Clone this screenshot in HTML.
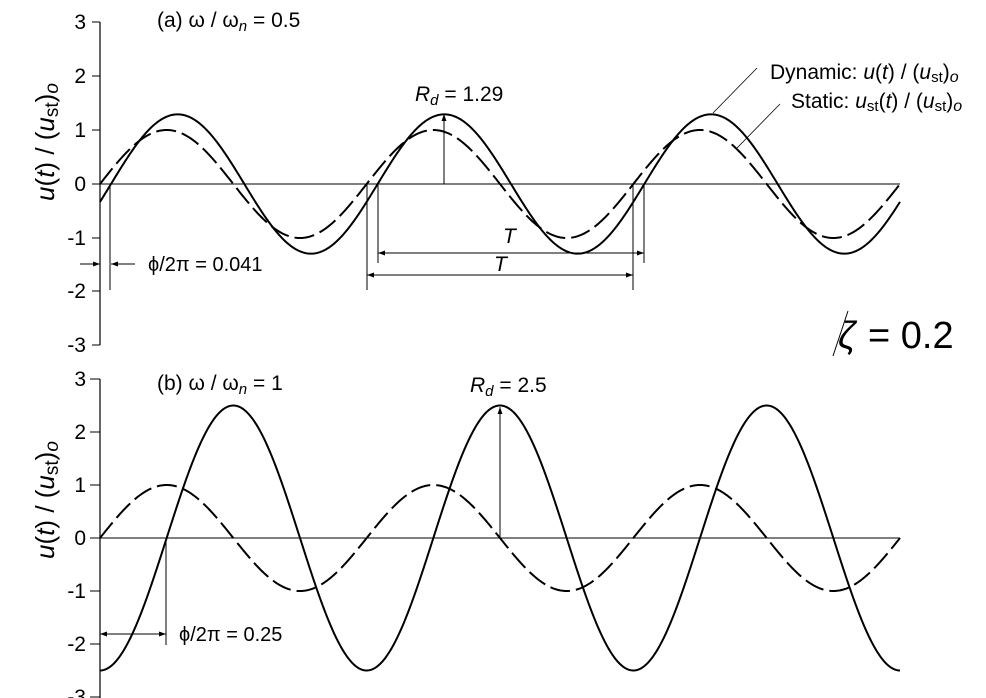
<!DOCTYPE html>
<html><head><meta charset="utf-8"><style>
html,body{margin:0;padding:0;background:#fff}
svg{display:block}
text{font-family:"Liberation Sans",sans-serif;fill:#000}
</style></head><body>
<svg id="s" width="986" height="698" viewBox="0 0 986 698" xmlns="http://www.w3.org/2000/svg">
<defs>
<marker id="ah" viewBox="0 0 10 10" refX="10" refY="5" markerWidth="7" markerHeight="7" orient="auto-start-reverse"><path d="M0,1.5 L10,5 L0,8.5 z" fill="#000"/></marker>
</defs>
<g stroke="#000" fill="none">
<line x1="100" y1="22" x2="100" y2="345" stroke-width="1.2"/>
<line x1="100" y1="184" x2="900" y2="184" stroke-width="1"/>
<path d="M92,22H100M92,76H100M92,130H100M92,238H100M92,291H100M92,345H100M92,184H100" stroke-width="1"/>
<line x1="100" y1="379" x2="100" y2="698" stroke-width="1.2"/>
<line x1="100" y1="538" x2="900" y2="538" stroke-width="1"/>
<path d="M90,379H100M90,432H100M90,485H100M90,538H100M90,591H100M90,644H100M90,697H100" stroke-width="1"/>
<line x1="110" y1="184" x2="110" y2="290" stroke-width="1"/>
<line x1="80" y1="264" x2="100" y2="264" stroke-width="1" marker-end="url(#ah)"/>
<line x1="135" y1="264" x2="111" y2="264" stroke-width="1" marker-end="url(#ah)"/>
<line x1="444" y1="184" x2="444" y2="114" stroke-width="1" marker-end="url(#ah)"/>
<path d="M367,184V290M378,184V263M633,184V290M644,184V263" stroke-width="1"/>
<line x1="378" y1="253" x2="644" y2="253" stroke-width="1" marker-start="url(#ah)" marker-end="url(#ah)"/>
<line x1="367" y1="275" x2="633" y2="275" stroke-width="1" marker-start="url(#ah)" marker-end="url(#ah)"/>
<line x1="757" y1="68" x2="713" y2="113" stroke-width="0.8"/>
<line x1="780" y1="104" x2="737" y2="148" stroke-width="0.8"/>
<line x1="833" y1="356" x2="848" y2="311" stroke-width="1"/>
<line x1="166" y1="538" x2="166" y2="645" stroke-width="1"/>
<line x1="100" y1="634" x2="166" y2="634" stroke-width="1" marker-start="url(#ah)" marker-end="url(#ah)"/>
<line x1="500" y1="538" x2="500" y2="407" stroke-width="1" marker-end="url(#ah)"/>
<path id="c1" stroke-width="2"/>
<path id="c2" stroke-width="2" stroke-dasharray="20,6"/>
<path id="c3" stroke-width="2"/>
<path id="c4" stroke-width="2" stroke-dasharray="20,6"/>
</g>
<g font-size="21">
<text x="86" y="29" text-anchor="end">3</text>
<text x="86" y="83" text-anchor="end">2</text>
<text x="86" y="137" text-anchor="end">1</text>
<text x="86" y="191" text-anchor="end">0</text>
<text x="86" y="245" text-anchor="end">-1</text>
<text x="86" y="298" text-anchor="end">-2</text>
<text x="86" y="352" text-anchor="end">-3</text>
<text x="86" y="386" text-anchor="end">3</text>
<text x="86" y="439" text-anchor="end">2</text>
<text x="86" y="492" text-anchor="end">1</text>
<text x="86" y="545" text-anchor="end">0</text>
<text x="86" y="598" text-anchor="end">-1</text>
<text x="86" y="651" text-anchor="end">-2</text>
<text x="86" y="704" text-anchor="end">-3</text>
<text x="157" y="27">(a) ω / ω<tspan font-style="italic" font-size="15" dy="4">n</tspan><tspan dy="-4"> = 0.5</tspan></text>
<text x="157" y="390">(b) ω / ω<tspan font-style="italic" font-size="15" dy="4">n</tspan><tspan dy="-4"> = 1</tspan></text>
<text x="415" y="101"><tspan font-style="italic">R</tspan><tspan font-style="italic" font-size="15" dy="4">d</tspan><tspan dy="-4">  = 1.29</tspan></text>
<text x="470" y="392"><tspan font-style="italic">R</tspan><tspan font-style="italic" font-size="15" dy="4">d</tspan><tspan dy="-4">  = 2.5</tspan></text>
<text x="148" y="271" font-size="20">ϕ/2π = 0.041</text>
<text x="179" y="641" font-size="20">ϕ/2π = 0.25</text>
<text x="503" y="243" font-style="italic">T</text>
<text x="494" y="271" font-style="italic">T</text>
<text x="770" y="79">Dynamic: <tspan font-style="italic">u</tspan>(<tspan font-style="italic">t</tspan>) / (<tspan font-style="italic">u</tspan><tspan font-size="15" dy="3">st</tspan><tspan dy="-3">)</tspan><tspan font-style="italic" font-size="16" dy="3">o</tspan></text>
<text x="791" y="108">Static: <tspan font-style="italic">u</tspan><tspan font-size="15" dy="3">st</tspan><tspan dy="-3">(</tspan><tspan font-style="italic">t</tspan>) / (<tspan font-style="italic">u</tspan><tspan font-size="15" dy="3">st</tspan><tspan dy="-3">)</tspan><tspan font-style="italic" font-size="16" dy="3">o</tspan></text>
</g>
<text x="838" y="348" font-size="38" font-style="italic">ζ</text>
<text x="868" y="348" font-size="38">= 0.2</text>
<text transform="translate(54,142) rotate(-90)" font-size="26" text-anchor="middle"><tspan font-style="italic">u</tspan>(<tspan font-style="italic">t</tspan>) / (<tspan font-style="italic">u</tspan><tspan font-size="19" dy="4">st</tspan><tspan dy="-4">)</tspan><tspan font-style="italic" font-size="19" dy="4">o</tspan></text>
<text transform="translate(54,500) rotate(-90)" font-size="26" text-anchor="middle"><tspan font-style="italic">u</tspan>(<tspan font-style="italic">t</tspan>) / (<tspan font-style="italic">u</tspan><tspan font-size="19" dy="4">st</tspan><tspan dy="-4">)</tspan><tspan font-style="italic" font-size="19" dy="4">o</tspan></text>
</svg>
<script>
function path(f,x0,x1){var d="";for(var x=x0;x<=x1;x+=1){d+=(x==x0?"M":"L")+x+","+f(x).toFixed(2);}return d;}
var P=800/3;
document.getElementById("c2").setAttribute("d",path(function(x){return 184-54*Math.sin(2*Math.PI*(x-100)/P);},100,900));
document.getElementById("c1").setAttribute("d",path(function(x){return 184-54*1.29*Math.sin(2*Math.PI*(x-111)/P);},100,900));
document.getElementById("c4").setAttribute("d",path(function(x){return 538-53*Math.sin(2*Math.PI*(x-100)/P);},100,900));
document.getElementById("c3").setAttribute("d",path(function(x){return 538+53*2.5*Math.cos(2*Math.PI*(x-100)/P);},100,900));
</script>
</body></html>
